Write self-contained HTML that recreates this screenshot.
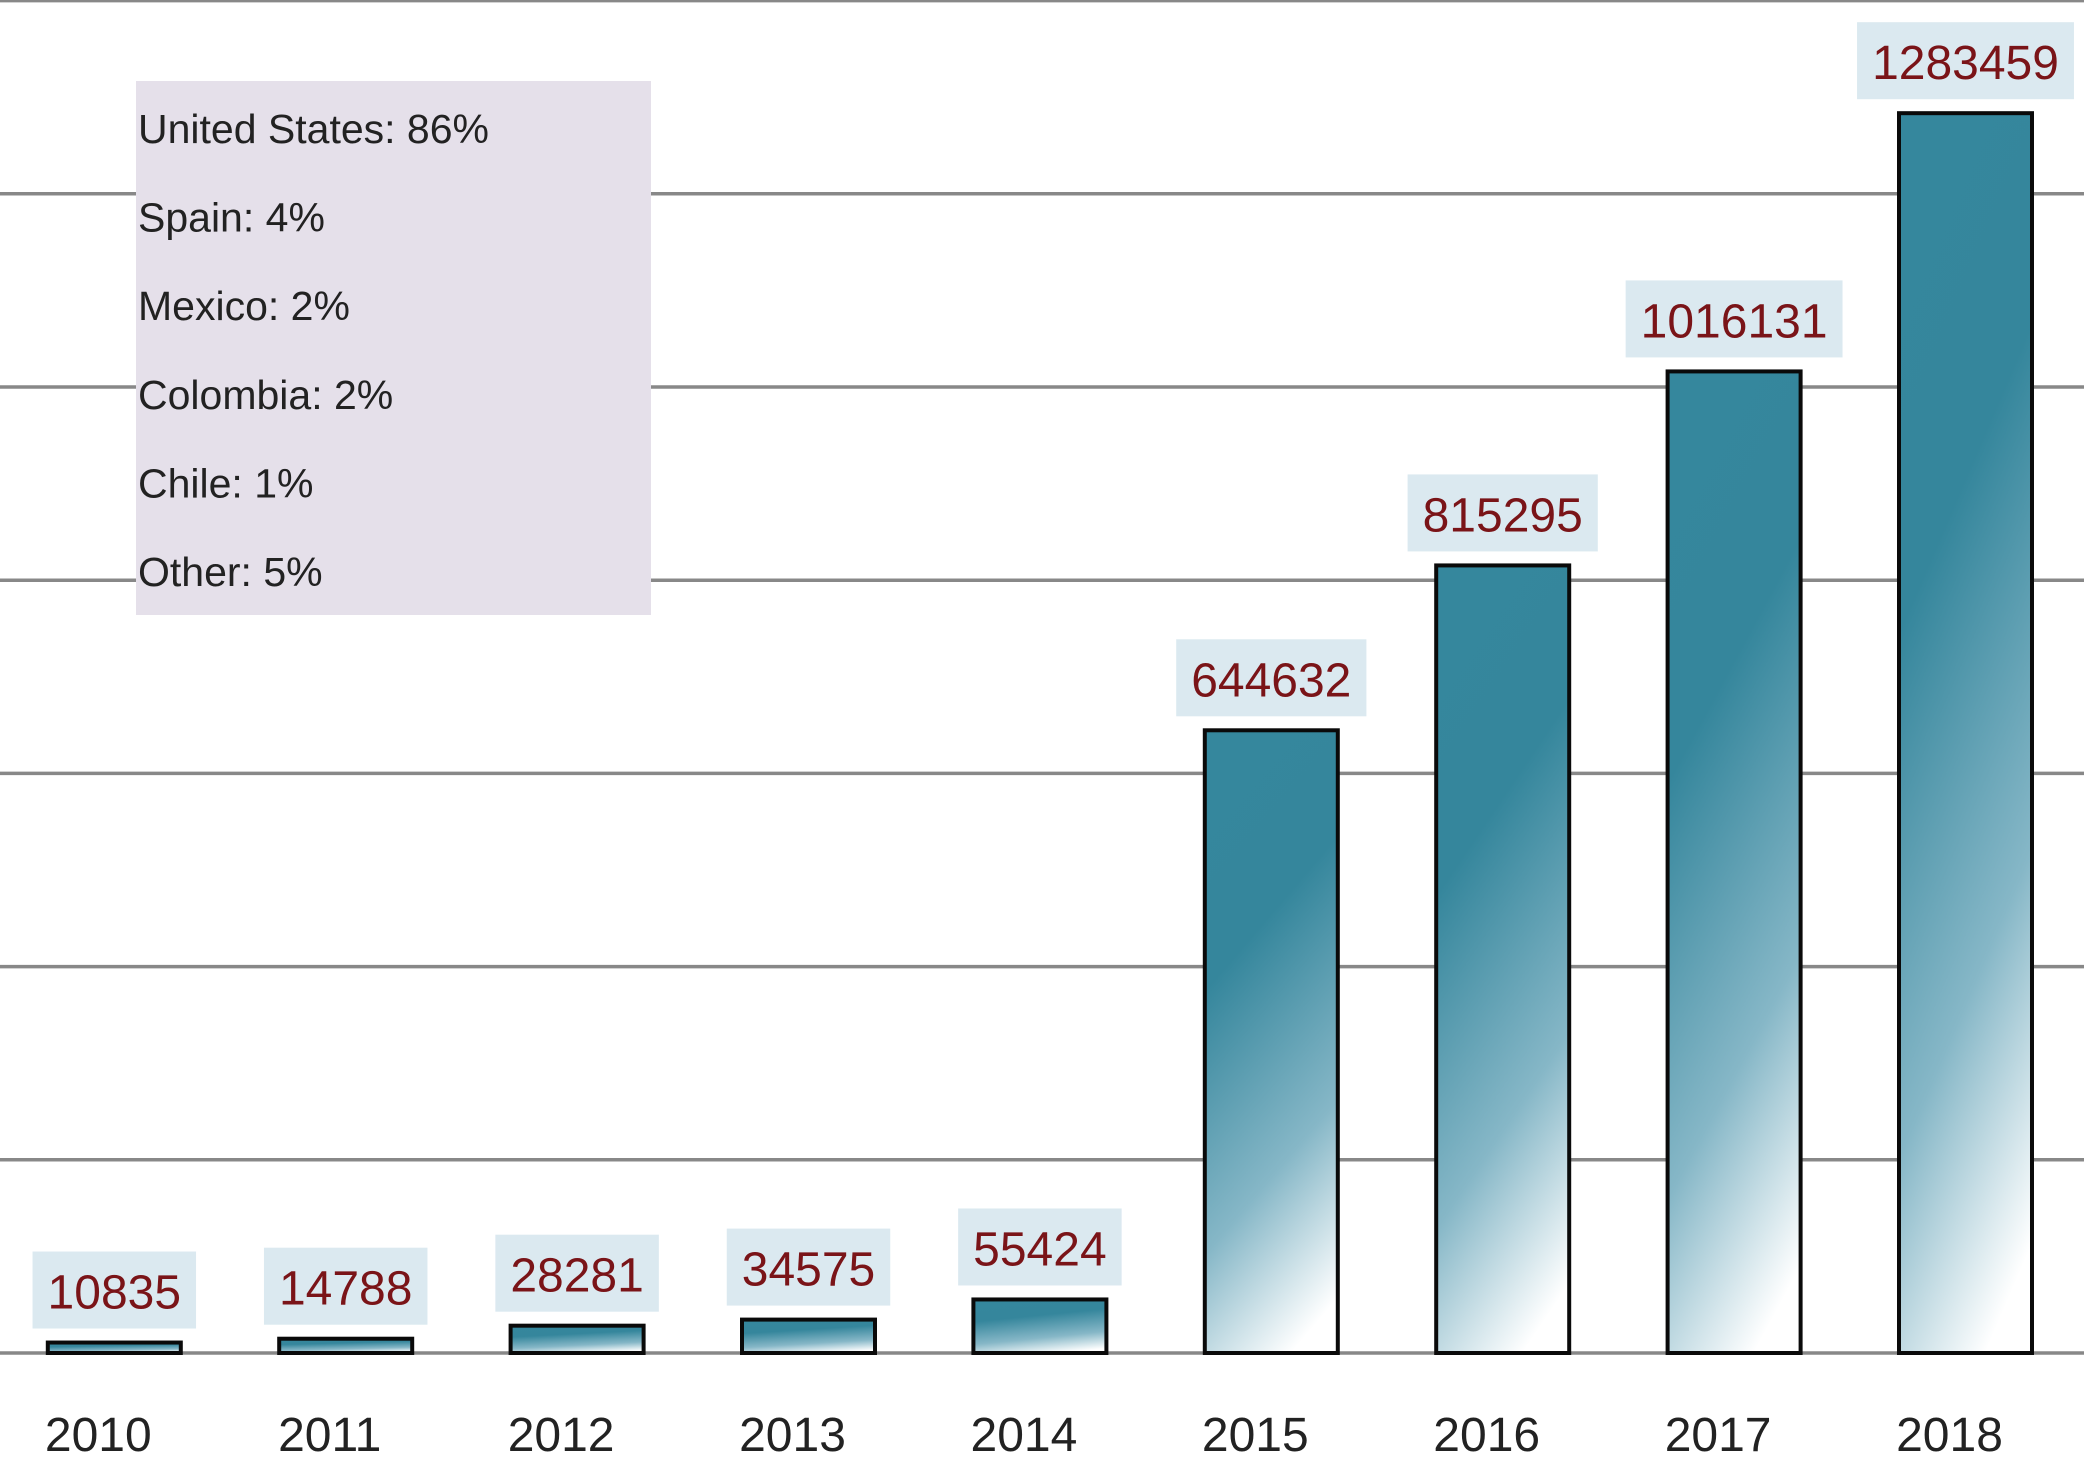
<!DOCTYPE html>
<html><head><meta charset="utf-8"><style>
html,body{margin:0;padding:0;background:#fff;}
svg{display:block;}
text{font-family:"Liberation Sans",Arial,sans-serif;}
</style></head><body>
<svg id="chart" width="2084" height="1462" viewBox="0 0 2084 1462" xmlns="http://www.w3.org/2000/svg">
<defs>
<linearGradient id="barGrad" x1="0.4" y1="0" x2="0.65" y2="1">
<stop offset="0" stop-color="#35879d"/>
<stop offset="0.3" stop-color="#35869c"/>
<stop offset="0.7" stop-color="#86b7c7"/>
<stop offset="1" stop-color="#ffffff"/>
</linearGradient>
</defs>
<g id="grid"></g>
<g id="legend">
<rect x="136" y="81" width="515" height="534" fill="#e5e0ea"/>
</g>
<g id="bars"></g>
</svg>
<script>
const categories = ["2010","2011","2012","2013","2014","2015","2016","2017","2018"];
const values = [10835,14788,28281,34575,55424,644632,815295,1016131,1283459];
const gridTicks = [0,200000,400000,600000,800000,1000000,1200000,1400000];
const legendLabels = ["United States: 86%","Spain: 4%","Mexico: 2%","Colombia: 2%","Chile: 1%","Other: 5%"];

const NS = "http://www.w3.org/2000/svg";
const baseY = 1353, topY = 0.6, yMax = 1400000;
function yScale(v){ return baseY - (v / yMax) * (baseY - topY); }
const x0 = 114.3, step = 231.4, barW = 137;
function xCenter(i){ return x0 + i * step; }

const grid = document.getElementById('grid');
gridTicks.forEach(t => {
  const l = document.createElementNS(NS,'line');
  l.setAttribute('x1',0); l.setAttribute('x2',2084);
  l.setAttribute('y1',yScale(t)); l.setAttribute('y2',yScale(t));
  l.setAttribute('stroke','#888'); l.setAttribute('stroke-width',3.5);
  
  
  grid.appendChild(l);
});

const legend = document.getElementById('legend');
legendLabels.forEach((s,i) => {
  const t = document.createElementNS(NS,'text');
  t.setAttribute('x',138); t.setAttribute('y',143 + i*88.6);
  t.setAttribute('font-size',41); t.setAttribute('fill','#222');
  t.textContent = s;
  
  
  legend.appendChild(t);
});

const bars = document.getElementById('bars');
categories.forEach((c,i) => {
  const cx = xCenter(i), y = yScale(values[i]);
  const r = document.createElementNS(NS,'rect');
  r.setAttribute('x',cx - barW/2 + 2); r.setAttribute('y',y);
  r.setAttribute('width',barW - 4); r.setAttribute('height',baseY - y);
  r.setAttribute('fill','url(#barGrad)'); r.setAttribute('stroke','#0a0a0a'); r.setAttribute('stroke-width',4);
  
  
  bars.appendChild(r);

  const label = String(values[i]);
  const tw = label.length * 26.7;
  const bw = tw + 30;
  const b = document.createElementNS(NS,'rect');
  b.setAttribute('x',cx - bw/2); b.setAttribute('y',y - 91);
  b.setAttribute('width',bw); b.setAttribute('height',77);
  b.setAttribute('fill','#dbe9f0');
  
  
  bars.appendChild(b);

  const t = document.createElementNS(NS,'text');
  t.setAttribute('x',cx); t.setAttribute('y',y - 34);
  t.setAttribute('text-anchor','middle'); t.setAttribute('font-size',48); t.setAttribute('fill','#7a1418');
  t.textContent = label;
  
  
  bars.appendChild(t);

  const xl = document.createElementNS(NS,'text');
  xl.setAttribute('x',cx - 16); xl.setAttribute('y',1451);
  xl.setAttribute('text-anchor','middle'); xl.setAttribute('font-size',48); xl.setAttribute('fill','#222');
  xl.textContent = c;
  
  
  bars.appendChild(xl);
});
</script>
</body></html>
